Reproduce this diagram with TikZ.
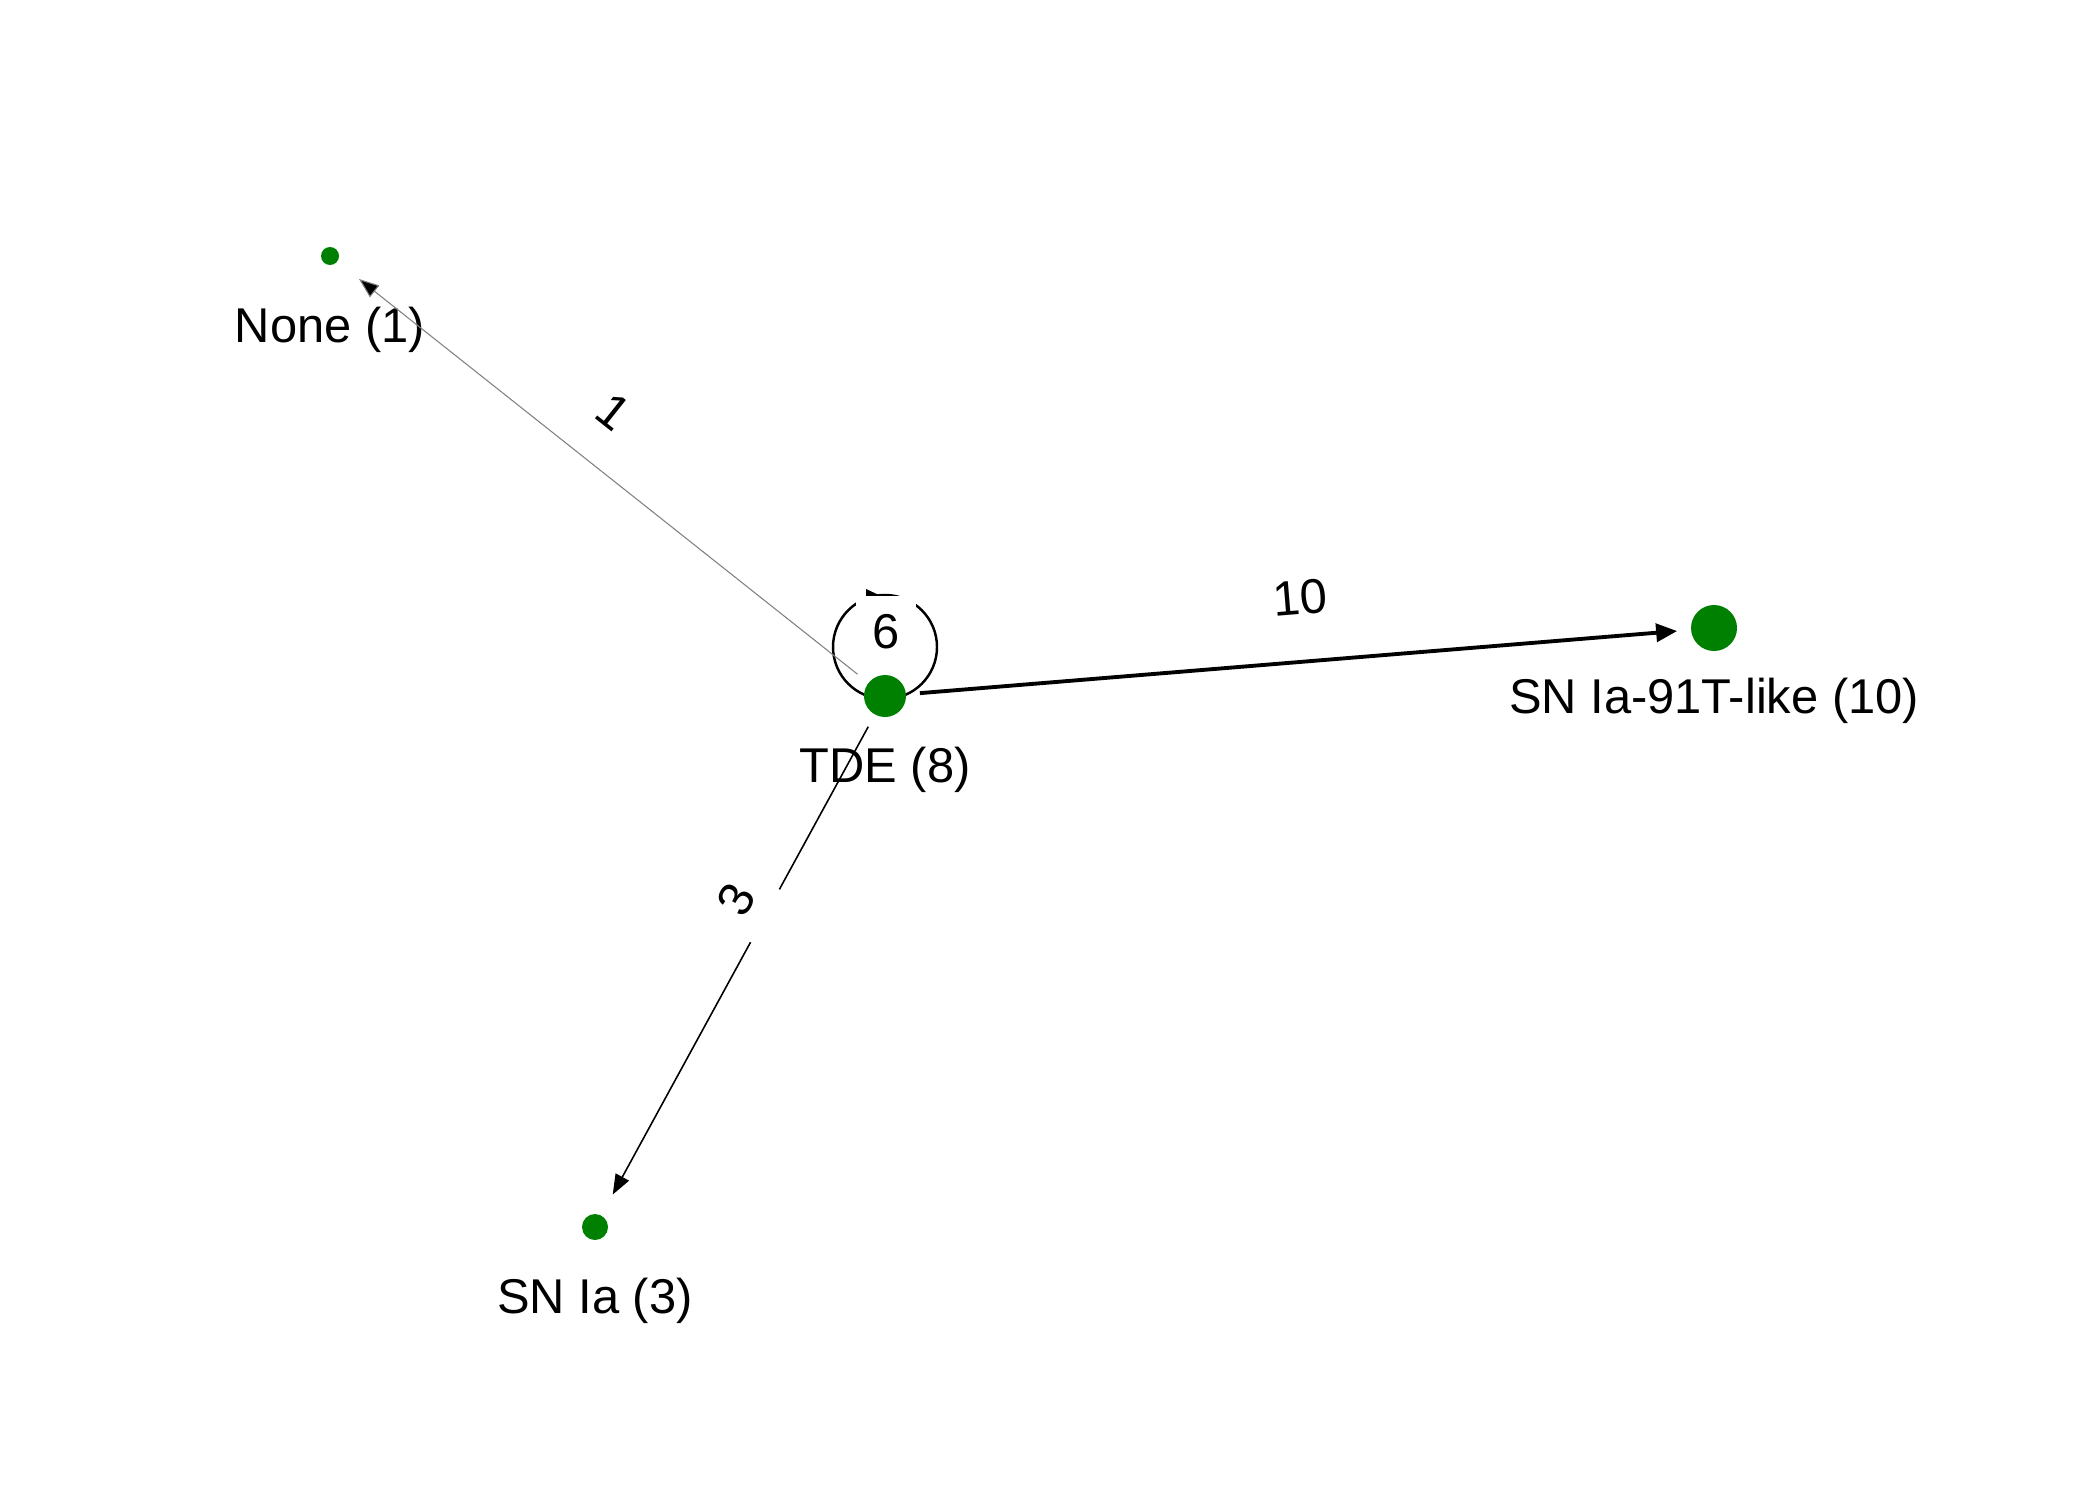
\documentclass[tikz,border=0pt]{standalone}
\usepackage{fontspec}
\setmainfont{Liberation Sans}
\usetikzlibrary{arrows.meta}
\definecolor{nodegreen}{RGB}{0,128,0}
\tikzset{
  vertex/.style={circle, fill=nodegreen, draw=none, inner sep=0pt},
  vlabel/.style={font=\fontsize{13.9}{16}\selectfont, anchor=base, inner sep=0pt},
  elabel/.style={font=\fontsize{13.9}{16}\selectfont, fill=white, inner sep=0pt, minimum width=6mm, minimum height=7.2mm},
  plainlabel/.style={font=\fontsize{13.9}{16}\selectfont, inner sep=0pt},
  edgeline/.style={shorten <=3.5mm, shorten >=3.7mm},
}
\begin{document}
\begin{tikzpicture}[x=0.1mm, y=-0.1mm]
\useasboundingbox (0,0) rectangle (2100,1500);
% self loop (drawn first, behind the node)
\coordinate (loopc) at (885,647);
\draw[line width=0.7pt] (loopc) circle[radius=52];
\coordinate (looptip) at (881,596);
\fill (looptip) -- (866,589) -- (866,603) -- cycle;
% vertices
\node[vertex, minimum size=1.8mm] (none) at (330,256) {};
\node[vertex, minimum size=4.2mm] (tde) at (885,696) {};
\node[vertex, minimum size=4.6mm] (snt) at (1714,628) {};
\node[vertex, minimum size=2.6mm] (snia) at (595,1227) {};
% vertex labels
\node[vlabel] (nonel) at ([yshift=-8.7mm]none.center) {None (1)};
\node[vlabel] (tdel) at ([yshift=-8.6mm]tde.center) {TDE (8)};
\node[vlabel] (sntl) at ([yshift=-8.5mm]snt.center) {SN Ia-91T-like (10)};
\node[vlabel] (snial) at ([yshift=-8.6mm]snia.center) {SN Ia (3)};
% edges
\draw[edgeline, draw=gray, line width=0.3pt, -{Triangle[length=2mm, width=1.5mm, fill=black]}] (tde.center) -- (none.center);
\draw[edgeline, line width=1.1pt, -{Triangle[length=2.1mm, width=1.8mm]}] (tde.center) -- (snt.center);
\draw[edgeline, line width=0.45pt, -{Triangle[length=2mm, width=1.5mm]}] (tde.center) -- (snia.center);
% edge labels
\node[plainlabel, rotate=-38.4] (l1) at (614,412) {1};
\node[plainlabel, rotate=4.7] (l10) at (1300,598) {10};
\node[elabel, rotate=61.4] (l3) at (736,900) {3};
\node[elabel] (l6) at (886,632) {6};
\end{tikzpicture}
\end{document}
